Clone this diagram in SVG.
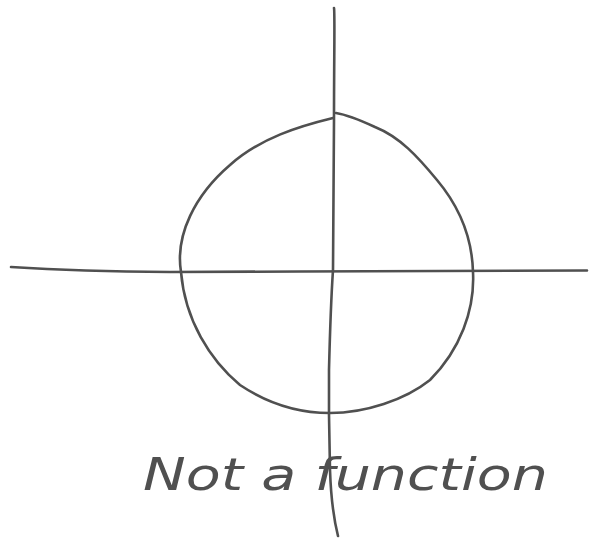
<svg xmlns="http://www.w3.org/2000/svg" width="596" height="541" viewBox="0 0 596 541">
<style>
.ln{fill:none;stroke:#505050;stroke-width:2.6;stroke-linecap:round;stroke-linejoin:round}
.tx{font-family:"DejaVu Sans","Liberation Sans",sans-serif;font-style:italic;font-size:44px;fill:#505050}
</style>
<rect width="596" height="541" fill="#ffffff"/>
<g id="axes">
<path class="ln" d="M11,267 C60,270 110,271.5 170,272 L300,271.5 L587,270.5"/>
<path class="ln" d="M334,8 C335,12 334,60 334,120 L333,270 C331,300 330,330 329,370 L329,415 L330,470 C331,500 334,520 338,536"/>
</g>
<g id="circle">
<path class="ln" d="M333,118 C300,126 260,138 230,165 C195,195 175,235 181,272 C185,320 210,360 240,385 C270,405 300,413 330,413 C365,413 405,400 430,380 C460,350 475,310 473,272 C472,235 458,205 437,180 C418,157 400,137 375,127 C362,121 349,115 336,113"/>
</g>
<g id="label">
<text class="tx" x="143" y="490" textLength="405" lengthAdjust="spacingAndGlyphs">Not a function</text>
</g>
</svg>
